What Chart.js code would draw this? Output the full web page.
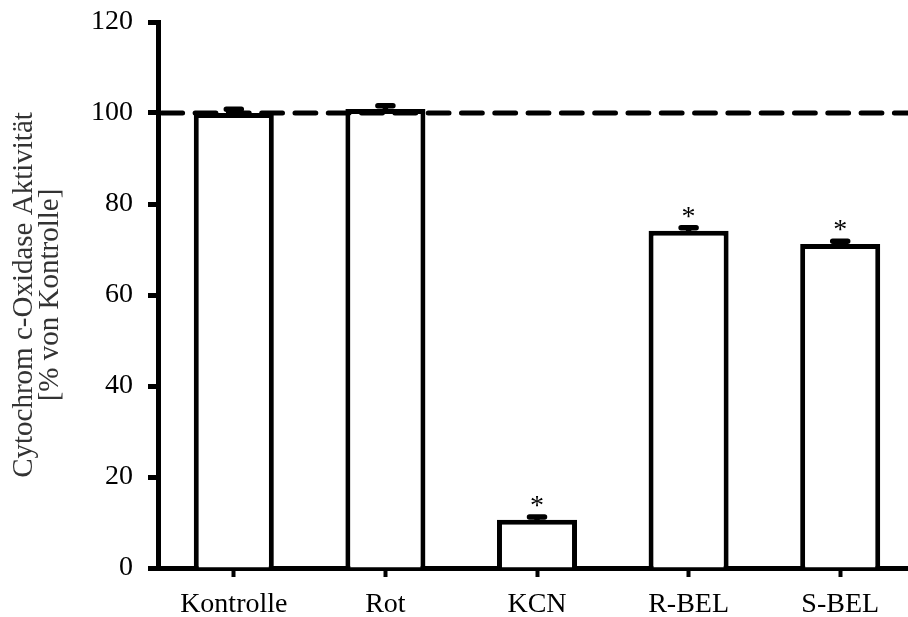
<!DOCTYPE html>
<html>
<head>
<meta charset="utf-8">
<script src="https://cdn.jsdelivr.net/npm/chart.js"></script>
<style>
  html, body { margin: 0; padding: 0; background: #fff; overflow: hidden; }
  #wrap { position: relative; width: 930px; height: 617px; }
</style>
</head>
<body>
<div id="wrap"><canvas id="chart"></canvas></div>
<script>
// Cytochrom c-Oxidase activity, mean and SEM in % of control
const categories = ['Kontrolle', 'Rot', 'KCN', 'R-BEL', 'S-BEL'];
const activity = [100, 100.9, 10.6, 74.1, 71.2];
const sem = [0.8, 0.7, 0.6, 0.7, 0.6];
const significance = ['', '', '*', '*', '*'];
const yMin = 0;
const yMax = 120;
const yStep = 20;
const controlLevel = 100;

const serif = '"Liberation Serif", "Times New Roman", serif';

// error bars, asterisks and the dashed 100 % line
const extras = {
  id: 'extras',
  afterDatasetsDraw(chart) {
    const ctx = chart.ctx;
    const y = chart.scales.y;
    const area = chart.chartArea;
    const meta = chart.getDatasetMeta(0);
    ctx.save();
    ctx.strokeStyle = '#000';
    ctx.fillStyle = '#000';
    ctx.lineCap = 'round';

    // dashed control line
    const ly = y.getPixelForValue(controlLevel);
    ctx.lineWidth = 5;
    ctx.setLineDash([20.8, 12.5]);
    ctx.lineDashOffset = 21.5;
    ctx.beginPath();
    ctx.moveTo(area.left - 8, ly);
    ctx.lineTo(area.right + 20, ly);
    ctx.stroke();
    ctx.setLineDash([]);

    meta.data.forEach((bar, i) => {
      const top = y.getPixelForValue(activity[i] + sem[i]);
      ctx.lineWidth = 5.5;
      ctx.beginPath();
      ctx.moveTo(bar.x, bar.y);
      ctx.lineTo(bar.x, top);
      ctx.moveTo(bar.x - 7.5, top);
      ctx.lineTo(bar.x + 7.5, top);
      ctx.stroke();
      if (significance[i]) {
        ctx.font = '28px ' + serif;
        ctx.textAlign = 'center';
        ctx.textBaseline = 'alphabetic';
        ctx.fillText(significance[i], bar.x, top - 3);
      }
    });
    ctx.restore();
  }
};

new Chart(document.getElementById('chart').getContext('2d'), {
  type: 'bar',
  data: {
    labels: categories,
    datasets: [{
      data: activity,
      backgroundColor: '#fff',
      borderColor: '#000',
      borderWidth: 5,
      barPercentage: 0.528,
      categoryPercentage: 1
    }]
  },
  options: {
    responsive: true,
    maintainAspectRatio: false,
    animation: false,
    layout: { padding: { left: 0, right: 14, top: 22, bottom: 0 } },
    plugins: {
      legend: { display: false },
      tooltip: { enabled: false }
    },
    scales: {
      x: {
        z: 1,
        afterFit: (s) => { s.height = 49; },
        grid: {
          display: true,
          drawOnChartArea: false,
          drawTicks: true,
          offset: false,
          tickLength: 9,
          tickWidth: 4,
          tickColor: '#000'
        },
        border: { display: true, color: '#000', width: 5 },
        ticks: {
          color: '#000',
          padding: 11,
          maxRotation: 0,
          font: { family: serif, size: 28 }
        }
      },
      y: {
        min: yMin,
        max: yMax,
        afterFit: (s) => {
          s.width = 158;
          s.paddingTop = 0;
          s.paddingBottom = 0;
        },
        grid: {
          display: true,
          drawOnChartArea: false,
          drawTicks: true,
          tickLength: 10,
          tickWidth: 5,
          tickColor: '#000'
        },
        border: { display: true, color: '#000', width: 5 },
        ticks: {
          stepSize: yStep,
          color: '#000',
          padding: 15,
          font: { family: serif, size: 28 }
        },
        title: {
          display: true,
          text: ['Cytochrom c-Oxidase Aktivität', '[% von Kontrolle]'],
          color: '#333',
          padding: { top: 11, bottom: 0 },
          font: { family: serif, size: 29, lineHeight: '26px' }
        }
      }
    }
  },
  plugins: [extras]
});
</script>
</body>
</html>
